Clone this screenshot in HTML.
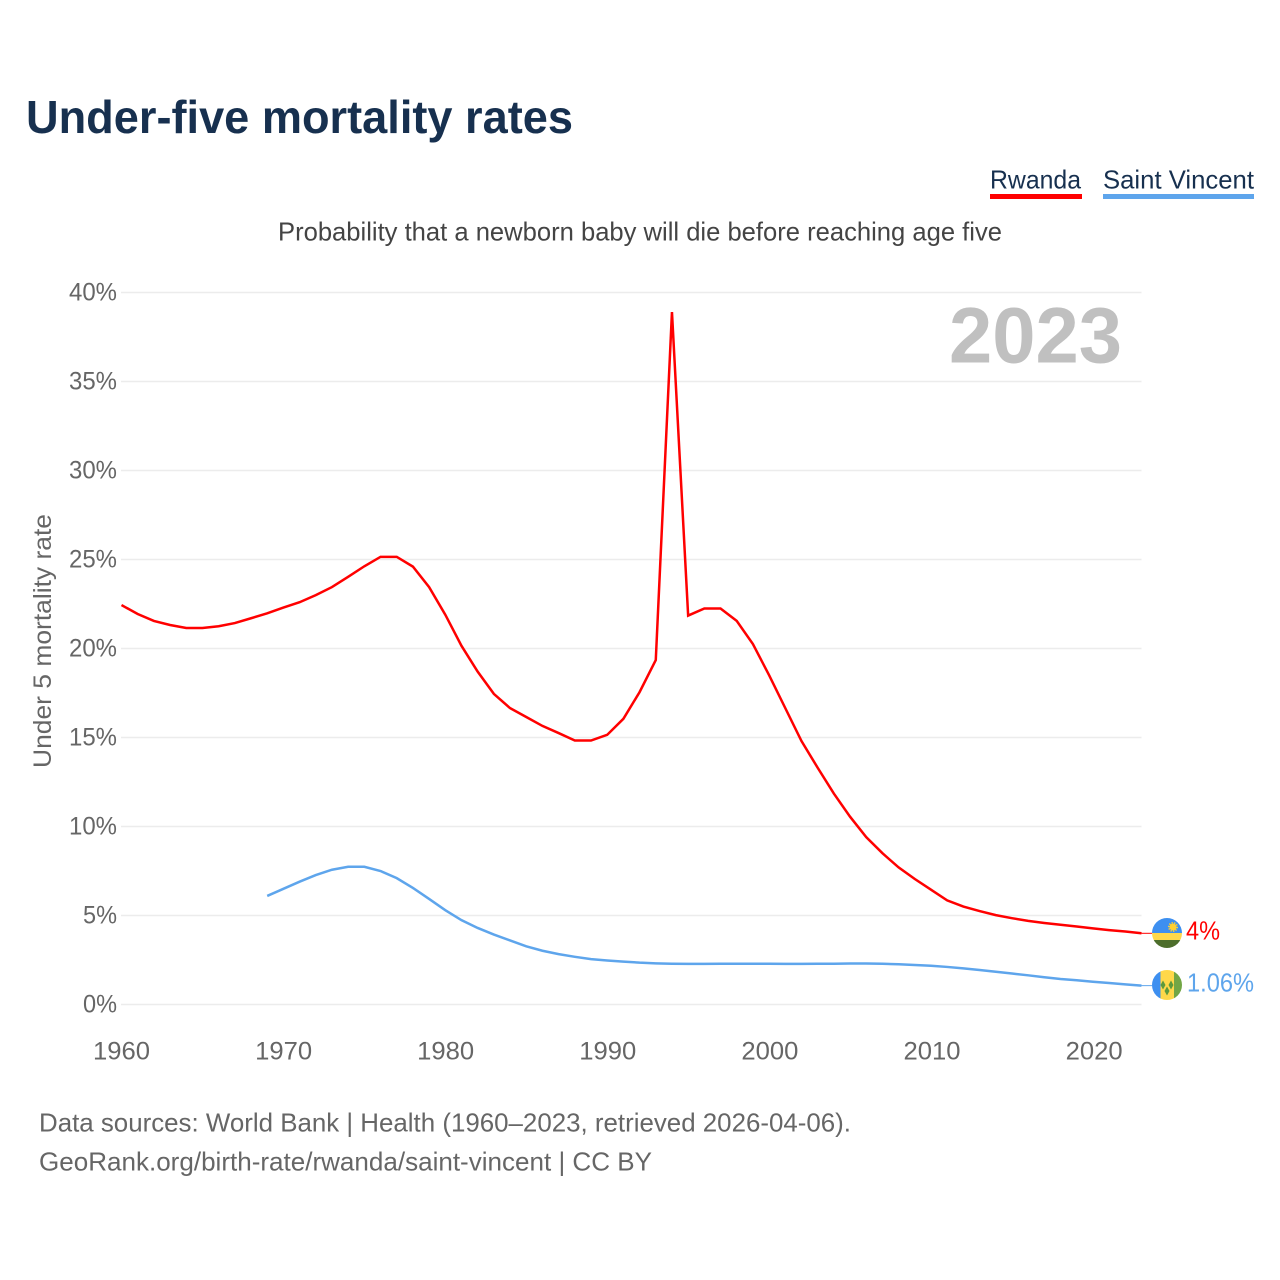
<!DOCTYPE html>
<html lang="en">
<head>
<meta charset="utf-8">
<title>Under-five mortality rates</title>
<style>
html,body{margin:0;padding:0;background:#fff;width:1280px;height:1280px;overflow:hidden}
svg{display:block}
text{font-family:"Liberation Sans",sans-serif}
</style>
</head>
<body>
<svg id="chart" xmlns="http://www.w3.org/2000/svg" width="1280" height="1280" viewBox="0 0 1280 1280">
  <rect width="1280" height="1280" fill="#fff"/>
  <text x="26" y="133" font-size="46" font-weight="700" fill="#17304f" textLength="547" lengthAdjust="spacingAndGlyphs">Under-five mortality rates</text>
  <g>
    <text x="990" y="188.500" font-size="26" fill="#17304f" textLength="91" lengthAdjust="spacingAndGlyphs">Rwanda</text>
    <rect x="990" y="194" width="92" height="5" fill="#ff0000"/>
  </g>
  <g>
    <text x="1103" y="188.500" font-size="26" fill="#17304f" textLength="151" lengthAdjust="spacingAndGlyphs">Saint Vincent</text>
    <rect x="1103" y="194" width="151" height="5" fill="#5ea5ec"/>
  </g>
  <text x="278" y="240.500" font-size="26" fill="#444" textLength="724" lengthAdjust="spacingAndGlyphs">Probability that a newborn baby will die before reaching age five</text>
  <g id="grid"></g>
  <g id="yticks"></g>
  <g id="xticks"></g>
  <text transform="translate(51,768) rotate(-90)" font-size="25" fill="#666" textLength="254" lengthAdjust="spacingAndGlyphs">Under 5 mortality rate</text>
  <text x="949" y="362.500" font-size="79" font-weight="700" fill="#c0c0c0" textLength="173" lengthAdjust="spacingAndGlyphs">2023</text>
  <g id="series"></g>

  <g>
    <clipPath id="clip-rw"><circle cx="1167" cy="933" r="15"/></clipPath>
    <g clip-path="url(#clip-rw)">
      <rect x="1152" y="918" width="30" height="15" fill="#3d8ff0"/>
      <rect x="1152" y="933" width="30" height="7.500" fill="#ffd84a"/>
      <rect x="1152" y="940" width="30" height="8" fill="#4d6e2c"/>
      <circle cx="1173" cy="927" r="3.500" fill="#ffd030"/>
      <circle cx="1173" cy="927" r="4.200" fill="none" stroke="#ffd030" stroke-width="1.600" stroke-dasharray="1.300 1.300"/>
    </g>
  </g>
  <g>
    <clipPath id="clip-vc"><circle cx="1167" cy="985" r="15"/></clipPath>
    <g clip-path="url(#clip-vc)">
      <rect x="1152" y="970" width="9" height="30" fill="#3d8ff0"/>
      <rect x="1160.500" y="970" width="14" height="30" fill="#ffd84a"/>
      <rect x="1174" y="970" width="8" height="30" fill="#72a645"/>
      <polygon points="1163,980.500 1165.500,985 1163,989.500 1160.500,985" fill="#5e9a3c"/>
      <polygon points="1171,980.500 1173.500,985 1171,989.500 1168.500,985" fill="#5e9a3c"/>
      <polygon points="1167,986.500 1169.500,991 1167,995.500 1164.500,991" fill="#5e9a3c"/>
    </g>
  </g>
  <text x="1186" y="939.500" font-size="26" fill="#ff0000" textLength="34" lengthAdjust="spacingAndGlyphs">4%</text>
  <text x="1187" y="991.500" font-size="26" fill="#5ea5ec" textLength="67" lengthAdjust="spacingAndGlyphs">1.06%</text>

  <text x="39" y="1131.500" font-size="26" fill="#666" textLength="812" lengthAdjust="spacingAndGlyphs">Data sources: World Bank | Health (1960–2023, retrieved 2026-04-06).</text>
  <text x="39" y="1170.500" font-size="26" fill="#666" textLength="613" lengthAdjust="spacingAndGlyphs">GeoRank.org/birth-rate/rwanda/saint-vincent | CC BY</text>
</svg>
<script>
const yTickValues = [0, 5, 10, 15, 20, 25, 30, 35, 40];
const xTickYears = [1960, 1970, 1980, 1990, 2000, 2010, 2020];
const rwandaStartYear = 1960;
const rwandaValues = [
  22.44, 21.94, 21.55, 21.32, 21.15, 21.15, 21.25, 21.43, 21.7, 21.98,
  22.3, 22.6, 23.0, 23.45, 24.03, 24.62, 25.15, 25.15, 24.6, 23.45,
  21.9, 20.15, 18.7, 17.45, 16.65, 16.15, 15.65, 15.25, 14.83, 14.83,
  15.15, 16.05, 17.55, 19.35, 38.9, 21.85, 22.25, 22.25, 21.55, 20.25,
  18.5, 16.65, 14.8, 13.3, 11.85, 10.55, 9.4, 8.5, 7.7, 7.05,
  6.45, 5.85, 5.5, 5.25, 5.02, 4.85, 4.7, 4.58, 4.48, 4.38,
  4.28, 4.18, 4.1, 4.0
];
const saintVincentStartYear = 1969;
const saintVincentValues = [
  6.1, 6.5, 6.9, 7.27, 7.57, 7.74, 7.74, 7.5, 7.1, 6.55,
  5.93, 5.3, 4.74, 4.3, 3.93, 3.6, 3.27, 3.02, 2.83, 2.68,
  2.55, 2.47, 2.41, 2.35, 2.31, 2.29, 2.28, 2.28, 2.29, 2.29,
  2.29, 2.29, 2.28, 2.28, 2.29, 2.29, 2.3, 2.3, 2.29, 2.26,
  2.22, 2.18, 2.11, 2.03, 1.94, 1.84, 1.74, 1.64, 1.53, 1.43,
  1.36, 1.28, 1.21, 1.13, 1.06
];

const SVG_NS = 'http://www.w3.org/2000/svg';
const scaleX = function (year) { return 121.5 + (year - 1960) * 16.19; };
const scaleY = function (value) { return 1004.5 - value * 17.8; };

const grid = document.getElementById('grid');
const yTicks = document.getElementById('yticks');
yTickValues.forEach(function (v) {
  const line = document.createElementNS(SVG_NS, 'line');
  
  
  line.setAttribute('x1', 121);
  line.setAttribute('x2', 1141.5);
  line.setAttribute('y1', scaleY(v));
  line.setAttribute('y2', scaleY(v));
  line.setAttribute('stroke', '#ececec');
  line.setAttribute('stroke-width', 1.5);
  grid.appendChild(line);

  const label = document.createElementNS(SVG_NS, 'text');
  
  
  label.setAttribute('x', 117);
  label.setAttribute('y', scaleY(v) + 8);
  label.setAttribute('text-anchor', 'end');
  label.setAttribute('font-size', 25);
  label.setAttribute('fill', '#666');
  label.setAttribute('textLength', v < 10 ? 34 : 48);
  label.setAttribute('lengthAdjust', 'spacingAndGlyphs');
  label.textContent = v + '%';
  yTicks.appendChild(label);
});

const xTicks = document.getElementById('xticks');
xTickYears.forEach(function (y) {
  const label = document.createElementNS(SVG_NS, 'text');
  
  
  label.setAttribute('x', scaleX(y) + (y - 1960) * 0.02);
  label.setAttribute('y', 1059.5);
  label.setAttribute('text-anchor', 'middle');
  label.setAttribute('font-size', 25);
  label.setAttribute('fill', '#666');
  label.setAttribute('textLength', 57);
  label.setAttribute('lengthAdjust', 'spacingAndGlyphs');
  label.textContent = y;
  xTicks.appendChild(label);
});

function linePoints(startYear, values) {
  return values.map(function (v, i) {
    return scaleX(startYear + i).toFixed(2) + ',' + scaleY(v).toFixed(2);
  }).join(' ');
}

const series = document.getElementById('series');

const rwandaLine = document.createElementNS(SVG_NS, 'polyline');


rwandaLine.setAttribute('points', linePoints(rwandaStartYear, rwandaValues));
rwandaLine.setAttribute('fill', 'none');
rwandaLine.setAttribute('stroke', '#ff0000');
rwandaLine.setAttribute('stroke-width', 2.5);
series.appendChild(rwandaLine);

const saintVincentLine = document.createElementNS(SVG_NS, 'polyline');


saintVincentLine.setAttribute('points', linePoints(saintVincentStartYear, saintVincentValues));
saintVincentLine.setAttribute('fill', 'none');
saintVincentLine.setAttribute('stroke', '#5ea5ec');
saintVincentLine.setAttribute('stroke-width', 2.5);
series.appendChild(saintVincentLine);

const rwandaConnector = document.createElementNS(SVG_NS, 'line');


rwandaConnector.setAttribute('x1', scaleX(2023));
rwandaConnector.setAttribute('x2', 1152);
rwandaConnector.setAttribute('y1', scaleY(rwandaValues[rwandaValues.length - 1]));
rwandaConnector.setAttribute('y2', scaleY(rwandaValues[rwandaValues.length - 1]));
rwandaConnector.setAttribute('stroke', '#ff0000');
rwandaConnector.setAttribute('stroke-width', 1);
series.appendChild(rwandaConnector);

const saintVincentConnector = document.createElementNS(SVG_NS, 'line');


saintVincentConnector.setAttribute('x1', scaleX(2023));
saintVincentConnector.setAttribute('x2', 1152);
saintVincentConnector.setAttribute('y1', scaleY(saintVincentValues[saintVincentValues.length - 1]));
saintVincentConnector.setAttribute('y2', scaleY(saintVincentValues[saintVincentValues.length - 1]));
saintVincentConnector.setAttribute('stroke', '#5ea5ec');
saintVincentConnector.setAttribute('stroke-width', 1);
series.appendChild(saintVincentConnector);
</script>
</body>
</html>
